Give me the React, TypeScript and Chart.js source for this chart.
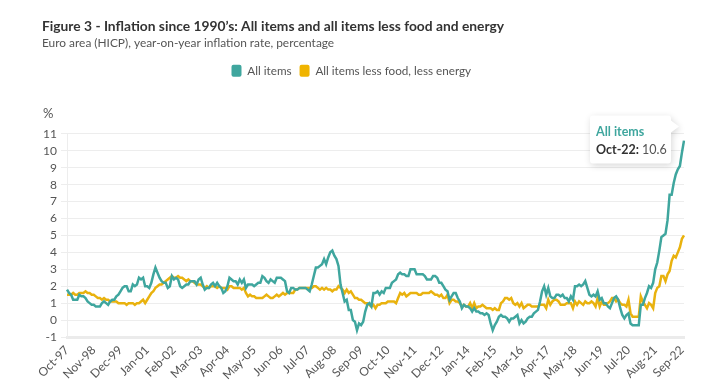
import React, { useEffect, useRef } from 'react';
import { Chart, registerables, layouts } from 'chart.js';

Chart.register(...registerables);

// ---------- data ----------
const MONTH_NAMES = ['Jan', 'Feb', 'Mar', 'Apr', 'May', 'Jun', 'Jul', 'Aug', 'Sep', 'Oct', 'Nov', 'Dec'];

// Euro area HICP, all items, y-o-y %, monthly Oct-97 .. Oct-22
const ALL_ITEMS: number[] = [
  1.8, 1.6, 1.5,
  1.2, 1.2, 1.2, 1.5, 1.4, 1.4, 1.3, 1.1, 1.0, 0.9, 0.9, 0.8,
  0.8, 0.8, 1.0, 1.1, 1.0, 0.9, 1.1, 1.2, 1.2, 1.4, 1.5, 1.7,
  1.9, 2.0, 2.0, 1.7, 1.7, 2.1, 2.0, 2.1, 2.5, 2.4, 2.5, 2.0,
  2.0, 1.9, 2.2, 2.7, 3.1, 2.8, 2.5, 2.3, 2.2, 2.2, 1.9, 2.0,
  2.6, 2.4, 2.5, 2.4, 2.0, 1.9, 2.0, 2.1, 2.1, 2.3, 2.3, 2.3,
  2.1, 2.4, 2.5, 2.1, 1.8, 1.9, 1.9, 2.1, 2.2, 2.0, 2.2, 2.0,
  1.9, 1.6, 1.7, 2.0, 2.5, 2.4, 2.3, 2.3, 2.1, 2.4, 2.2, 2.4,
  1.9, 2.1, 2.1, 2.1, 2.0, 2.1, 2.2, 2.2, 2.6, 2.5, 2.3, 2.2,
  2.4, 2.3, 2.2, 2.5, 2.5, 2.5, 2.4, 2.3, 1.7, 1.6, 1.9, 1.9,
  1.8, 1.8, 1.9, 1.9, 1.9, 1.9, 1.8, 1.7, 2.1, 2.6, 3.1, 3.1,
  3.2, 3.3, 3.6, 3.3, 3.7, 4.0, 4.1, 3.8, 3.6, 3.2, 2.1, 1.6,
  1.1, 1.2, 0.6, 0.6, 0.0, -0.1, -0.6, -0.2, -0.3, -0.1, 0.5, 0.9,
  1.0, 0.8, 1.6, 1.6, 1.7, 1.5, 1.7, 1.6, 1.9, 1.9, 1.9, 2.2,
  2.3, 2.4, 2.7, 2.8, 2.7, 2.7, 2.6, 2.6, 3.0, 3.0, 3.0, 2.7,
  2.7, 2.7, 2.7, 2.6, 2.4, 2.4, 2.4, 2.6, 2.6, 2.5, 2.2, 2.2,
  2.0, 1.8, 1.7, 1.2, 1.4, 1.6, 1.6, 1.3, 1.1, 0.7, 0.9, 0.8,
  0.8, 0.7, 0.5, 0.7, 0.5, 0.5, 0.4, 0.4, 0.3, 0.4, 0.3, -0.2,
  -0.6, -0.3, -0.1, 0.2, 0.3, 0.2, 0.2, 0.1, -0.1, 0.1, 0.1, 0.2,
  0.3, -0.2, 0.0, -0.2, -0.1, 0.1, 0.2, 0.2, 0.4, 0.5, 0.6, 1.1,
  1.7, 2.0, 1.5, 1.9, 1.4, 1.3, 1.3, 1.5, 1.5, 1.4, 1.5, 1.3,
  1.3, 1.1, 1.4, 1.2, 2.0, 2.0, 2.1, 2.0, 2.1, 2.3, 1.9, 1.5,
  1.4, 1.5, 1.4, 1.7, 1.2, 1.3, 1.0, 1.0, 0.8, 0.7, 1.0, 1.3,
  1.4, 1.2, 0.7, 0.3, 0.1, 0.3, 0.4, -0.2, -0.3, -0.3, -0.3, -0.3,
  0.9, 0.9, 1.3, 1.6, 2.0, 1.9, 2.2, 3.0, 3.4, 4.1, 4.9, 5.0,
  5.1, 5.9, 7.4, 7.4, 8.1, 8.6, 8.9, 9.1, 9.9, 10.6,
];

// All items less food, less energy, y-o-y %, monthly Oct-97 .. Oct-22
const LESS_FOOD_ENERGY: number[] = [
  1.5, 1.5, 1.5,
  1.6, 1.5, 1.5, 1.6, 1.6, 1.6, 1.7, 1.6, 1.6, 1.5, 1.5, 1.4,
  1.3, 1.3, 1.2, 1.3, 1.2, 1.2, 1.1, 1.1, 1.1, 1.1, 1.0, 1.0,
  1.0, 1.0, 0.9, 1.0, 1.0, 1.0, 0.9, 1.0, 1.0, 1.1, 1.2, 1.0,
  1.2, 1.4, 1.6, 1.7, 1.9, 2.0, 2.1, 2.1, 2.2, 2.3, 2.4, 2.5,
  2.6, 2.5, 2.5, 2.6, 2.5, 2.5, 2.4, 2.3, 2.4, 2.3, 2.3, 2.2,
  2.1, 2.1, 2.1, 2.0, 1.9, 2.0, 1.9, 2.0, 2.0, 2.0, 1.9, 2.0,
  1.9, 1.9, 1.9, 1.8, 2.0, 2.0, 1.9, 1.9, 1.9, 1.9, 1.8, 1.9,
  1.6, 1.4, 1.5, 1.4, 1.4, 1.3, 1.3, 1.3, 1.3, 1.4, 1.5, 1.4,
  1.3, 1.3, 1.4, 1.5, 1.4, 1.5, 1.6, 1.5, 1.6, 1.6, 1.6, 1.6,
  1.8, 1.8, 1.9, 1.9, 1.9, 1.9, 1.9, 1.9, 1.9, 2.0, 2.0, 1.9,
  1.8, 1.9, 1.8, 1.9, 1.8, 1.8, 1.7, 1.8, 1.8, 2.0, 1.9, 1.8,
  1.6, 1.8, 1.6, 1.7, 1.5, 1.3, 1.3, 1.2, 1.2, 1.1, 1.0, 1.0,
  0.9, 0.8, 0.9, 0.7, 0.9, 0.9, 1.0, 1.0, 1.0, 1.1, 1.1, 1.1,
  1.1, 1.0, 1.3, 1.6, 1.5, 1.6, 1.4, 1.5, 1.6, 1.6, 1.6, 1.6,
  1.5, 1.5, 1.6, 1.6, 1.6, 1.6, 1.7, 1.6, 1.5, 1.5, 1.4, 1.5,
  1.3, 1.3, 1.5, 1.0, 1.2, 1.2, 1.1, 1.1, 1.0, 0.8, 0.9, 0.8,
  0.8, 1.0, 0.7, 1.0, 0.7, 0.8, 0.8, 0.9, 0.8, 0.7, 0.7, 0.7,
  0.6, 0.7, 0.6, 0.6, 1.0, 1.1, 1.3, 1.3, 1.2, 1.3, 1.0, 0.9,
  1.0, 0.8, 1.0, 0.7, 0.8, 0.9, 0.9, 0.8, 0.8, 0.8, 0.8, 0.9,
  0.9, 0.9, 0.7, 1.2, 0.9, 1.1, 1.2, 1.2, 1.1, 0.9, 0.9, 0.9,
  1.0, 1.0, 1.0, 0.7, 1.1, 0.9, 1.1, 1.0, 0.9, 1.1, 1.0, 1.0,
  1.1, 1.0, 0.8, 1.3, 0.8, 1.1, 0.9, 0.9, 1.0, 1.1, 1.3, 1.3,
  1.1, 1.2, 1.0, 0.9, 0.9, 0.8, 1.2, 0.4, 0.2, 0.2, 0.2, 0.2,
  1.4, 1.1, 0.9, 0.7, 1.0, 0.9, 0.7, 1.6, 1.9, 2.0, 2.6, 2.6,
  2.3, 2.7, 2.9, 3.5, 3.8, 3.7, 4.0, 4.3, 4.8, 5.0,
];

// category labels: months from Oct-97
const START_YEAR = 1997;
const START_MONTH = 9; // October (0-based)
const CATEGORIES: string[] = ALL_ITEMS.map((_, i) => {
  const m = (START_MONTH + i) % 12;
  const y = START_YEAR + Math.floor((START_MONTH + i) / 12);
  return `${MONTH_NAMES[m]}-${String(y % 100).padStart(2, '0')}`;
});

const TICK_LABELS: string[] = [
  'Oct-97', 'Nov-98', 'Dec-99', 'Jan-01', 'Feb-02', 'Mar-03', 'Apr-04', 'May-05',
  'Jun-06', 'Jul-07', 'Aug-08', 'Sep-09', 'Oct-10', 'Nov-11', 'Dec-12', 'Jan-14',
  'Feb-15', 'Mar-16', 'Apr-17', 'May-18', 'Jun-19', 'Jul-20', 'Aug-21', 'Sep-22',
];

const SERIES_NAMES = ['All items', 'All items less food, less energy'];
const TOOLTIP_CATEGORY = 'Oct-22';

const TITLE = 'Figure 3 - Inflation since 1990\u2019s: All items and all items less food and energy';
const SUBTITLE = 'Euro area (HICP), year-on-year inflation rate, percentage';
const UNIT = '%';

// ---------- style ----------
const FONT = 'Lato, "Open Sans", sans-serif';
const TEAL = '#3fa69e';
const GOLD = '#e9b20e';
const TEXT = '#555555';
const GRID = '#ededed';

// extra layout box between legend and plot (holds the "%" unit)
const unitBoxPlugin = {
  id: 'unitBox',
  beforeInit(chart: any) {
    const box: any = {
      position: 'top',
      weight: 500,
      fullSize: true,
      options: {},
      left: 0, top: 0, right: 0, bottom: 0, width: 0, height: 0,
      isHorizontal() { return true; },
      update(maxWidth: number) {
        this.width = maxWidth;
        this.height = 47;
        return this.height;
      },
      draw() {
        const ctx = chart.ctx;
        ctx.save();
        ctx.fillStyle = TEXT;
        ctx.font = `13px ${FONT}`;
        ctx.textAlign = 'left';
        ctx.textBaseline = 'middle';
        ctx.fillText(UNIT, 43, this.bottom - 20);
        ctx.restore();
      },
    };
    layouts.addBox(chart, box);
  },
};

const tooltipPlugin = {
  id: 'fixedTooltip',
  afterDraw(chart: any) {
    const idx = CATEGORIES.indexOf(TOOLTIP_CATEGORY);
    const pt = chart.getDatasetMeta(0).data[idx];
    if (!pt) return;
    const px = pt.x;
    const py = pt.y;
    const ctx = chart.ctx;
    const bw = 81;
    const bh = 48;
    const bx = px - 13 - bw;
    const by = py - 25;
    ctx.save();
    ctx.shadowColor = 'rgba(0,0,0,0.16)';
    ctx.shadowBlur = 7;
    ctx.shadowOffsetX = 1;
    ctx.shadowOffsetY = 2;
    ctx.fillStyle = '#ffffff';
    ctx.beginPath();
    const r = 3;
    ctx.moveTo(bx + r, by);
    ctx.lineTo(bx + bw - r, by);
    ctx.quadraticCurveTo(bx + bw, by, bx + bw, by + r);
    ctx.lineTo(bx + bw, by + 5);
    ctx.lineTo(px - 5, by + 11);
    ctx.lineTo(bx + bw, by + 17);
    ctx.lineTo(bx + bw, by + bh - r);
    ctx.quadraticCurveTo(bx + bw, by + bh, bx + bw - r, by + bh);
    ctx.lineTo(bx + r, by + bh);
    ctx.quadraticCurveTo(bx, by + bh, bx, by + bh - r);
    ctx.lineTo(bx, by + r);
    ctx.quadraticCurveTo(bx, by, bx + r, by);
    ctx.closePath();
    ctx.fill();
    ctx.restore();

    ctx.save();
    ctx.textBaseline = 'middle';
    ctx.textAlign = 'left';
    ctx.font = `bold 12.5px ${FONT}`;
    ctx.fillStyle = TEAL;
    ctx.fillText(chart.data.datasets[0].label, bx + 6, by + 16);
    ctx.fillStyle = '#333333';
    const lab = `${CATEGORIES[idx]}: `;
    ctx.fillText(lab, bx + 6, by + 34);
    const w = ctx.measureText(lab).width;
    ctx.font = `12.5px ${FONT}`;
    ctx.fillStyle = TEXT;
    ctx.fillText(ALL_ITEMS[idx].toFixed(1), bx + 6 + w, by + 34);
    ctx.restore();
  },
};

export default function App() {
  const canvasRef = useRef<HTMLCanvasElement | null>(null);

  useEffect(() => {
    if (!canvasRef.current) return;
    const chart = new Chart(canvasRef.current, {
      type: 'line',
      data: {
        labels: CATEGORIES,
        datasets: [
          {
            label: SERIES_NAMES[0],
            data: ALL_ITEMS,
            borderColor: TEAL,
            backgroundColor: TEAL,
            borderWidth: 2.5,
            pointRadius: 0,
            tension: 0,
          },
          {
            label: SERIES_NAMES[1],
            data: LESS_FOOD_ENERGY,
            borderColor: GOLD,
            backgroundColor: '#f0b400',
            borderWidth: 2.5,
            pointRadius: 0,
            tension: 0,
          },
        ],
      },
      options: {
        animation: false,
        responsive: true,
        maintainAspectRatio: false,
        layout: { padding: { left: 42, right: 35, top: 0, bottom: 0 } },
        plugins: {
          title: {
            display: true,
            text: TITLE,
            align: 'start',
            color: '#333333',
            font: { family: FONT, size: 13.8, weight: 'bold' },
            padding: { top: 18, bottom: 0 },
          },
          subtitle: {
            display: true,
            text: SUBTITLE,
            align: 'start',
            color: TEXT,
            font: { family: FONT, size: 11.9 },
            padding: { top: 1, bottom: 7 },
          },
          legend: {
            display: true,
            labels: {
              boxWidth: 10,
              boxHeight: 12,
              padding: 8,
              color: TEXT,
              font: { family: FONT, size: 11.7 },
              useBorderRadius: true,
              borderRadius: 2,
              generateLabels(chart: any) {
                const items = Chart.defaults.plugins.legend.labels.generateLabels(chart);
                items.forEach((it: any) => { it.lineWidth = 0; });
                items[items.length - 1].text += '\u2003\u2003\u2002';
                return items;
              },
            },
          },
          tooltip: { enabled: false },
        },
        scales: {
          x: {
            grid: { display: false, drawTicks: false },
            border: { color: '#ebebeb', width: 3 },
            ticks: {
              autoSkip: false,
              minRotation: 45,
              maxRotation: 45,
              color: TEXT,
              font: { family: FONT, size: 12 },
              padding: 6,
              callback: (_v: any, i: number) => {
                const l = CATEGORIES[i];
                return TICK_LABELS.includes(l) ? l : null;
              },
            },
            afterFit: (s: any) => {
              s.height = 45;
              s.paddingLeft = 0;
              s.paddingRight = 0;
            },
          },
          y: {
            min: -1,
            max: 11,
            ticks: {
              stepSize: 1,
              autoSkip: false,
              color: TEXT,
              font: { family: FONT, size: 12 },
              padding: 4,
            },
            grid: { color: GRID, tickLength: 6, drawTicks: true },
            border: { color: GRID },
            afterFit: (s: any) => {
              s.width = 25;
            },
          },
        },
      },
      plugins: [unitBoxPlugin, tooltipPlugin],
    } as any);
    return () => chart.destroy();
  }, []);

  return (
    <div style={{ position: 'absolute', left: 0, top: 0, width: 719, height: 382, background: '#fff' }}>
      <canvas ref={canvasRef} />
    </div>
  );
}
